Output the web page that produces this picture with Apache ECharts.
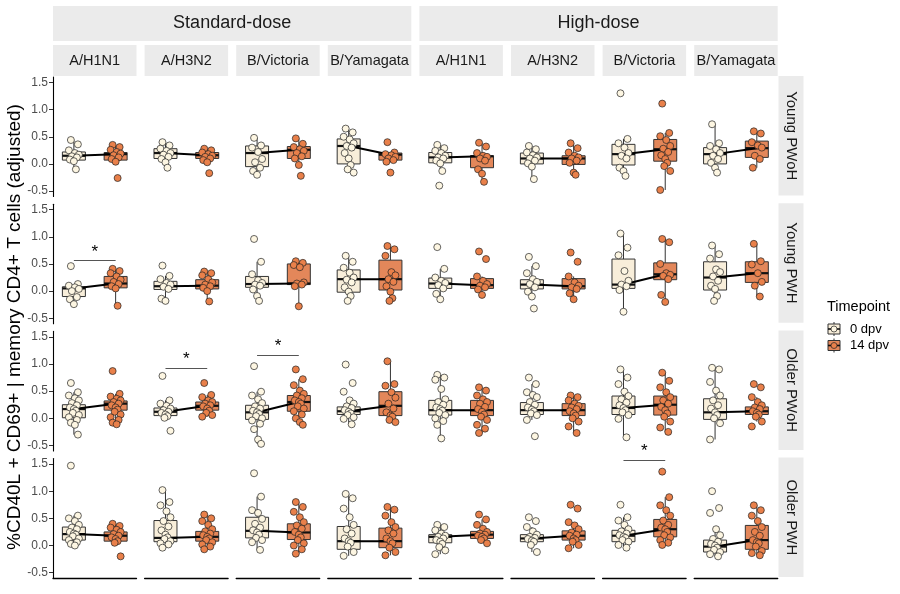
<!DOCTYPE html>
<html lang="en">
  <head>
    <meta charset="UTF-8" />
    <title>CD40L+ CD69+ memory CD4+ T cells</title>
    <script src="https://cdn.jsdelivr.net/npm/echarts@6.0.0/dist/echarts.min.js"></script>
    <style>
      html, body { margin: 0; padding: 0; background: #fff; }
      #box { width: 900px; height: 594px; }
    </style>
  </head>
  <body>
    <div id="box"></div>
    <script>
      var doses = ["Standard-dose", "High-dose"];
      var strains = ["A/H1N1", "A/H3N2", "B/Victoria", "B/Yamagata"];
      var cohorts = ["Young PWoH", "Young PWH", "Older PWoH", "Older PWH"];
      var timepoints = ["0 dpv", "14 dpv"];
      var yTicks = [-0.5, 0, 0.5, 1, 1.5];

      // box: [lower whisker, Q1, median, Q3, upper whisker]
      // 8 panels per row (standard-dose strains, then high-dose strains), each [0 dpv, 14 dpv]
      var boxYoungPWoH = [
        [[-0.1, 0.07, 0.15, 0.22, 0.43], [0.04, 0.07, 0.18, 0.21, 0.35]],
        [[-0.07, 0.1, 0.2, 0.28, 0.4], [0.03, 0.1, 0.16, 0.21, 0.28]],
        [[-0.2, -0.05, 0.2, 0.33, 0.48], [-0.02, 0.1, 0.26, 0.32, 0.47]],
        [[-0.16, 0.0, 0.33, 0.46, 0.65], [0.04, 0.07, 0.17, 0.2, 0.21]],
        [[-0.13, 0.02, 0.12, 0.21, 0.35], [-0.33, -0.07, 0.14, 0.15, 0.39]],
        [[-0.28, 0.0, 0.1, 0.2, 0.33], [-0.2, -0.01, 0.1, 0.15, 0.38]],
        [[-0.22, -0.02, 0.18, 0.36, 0.46], [-0.48, 0.05, 0.27, 0.45, 0.57]],
        [[-0.16, 0.0, 0.18, 0.3, 0.73], [-0.07, 0.12, 0.29, 0.42, 0.6]],
      ];
      var boxYoungPWH = [
        [[-0.24, -0.1, 0.05, 0.08, 0.13], [-0.27, 0.06, 0.14, 0.27, 0.41]],
        [[-0.18, 0.03, 0.09, 0.18, 0.28], [-0.19, 0.04, 0.1, 0.21, 0.36]],
        [[-0.18, 0.07, 0.13, 0.27, 0.54], [-0.28, 0.12, 0.14, 0.5, 0.55]],
        [[-0.18, -0.02, 0.22, 0.39, 0.65], [-0.18, 0.02, 0.22, 0.57, 0.83]],
        [[-0.15, 0.05, 0.14, 0.24, 0.41], [-0.07, 0.05, 0.11, 0.23, 0.27]],
        [[-0.1, 0.04, 0.12, 0.21, 0.46], [-0.15, 0.04, 0.09, 0.23, 0.27]],
        [[-0.38, 0.05, 0.12, 0.59, 1.06], [-0.2, 0.21, 0.31, 0.52, 0.96]],
        [[-0.18, 0.02, 0.25, 0.54, 0.84], [-0.1, 0.16, 0.33, 0.54, 0.87]],
      ];
      var boxOlderPWoH = [
        [[-0.3, 0.01, 0.17, 0.25, 0.48], [-0.11, 0.15, 0.27, 0.32, 0.45]],
        [[0.0, 0.05, 0.12, 0.19, 0.33], [0.03, 0.15, 0.23, 0.3, 0.43]],
        [[-0.47, -0.02, 0.11, 0.24, 0.49], [-0.12, 0.13, 0.3, 0.42, 0.72]],
        [[-0.11, 0.07, 0.13, 0.21, 0.33], [-0.07, 0.05, 0.23, 0.49, 1.05]],
        [[-0.37, 0.06, 0.15, 0.33, 0.8], [-0.27, 0.05, 0.15, 0.33, 0.57]],
        [[-0.03, 0.07, 0.15, 0.29, 0.63], [-0.27, 0.05, 0.15, 0.27, 0.42]],
        [[-0.35, 0.07, 0.19, 0.41, 0.9], [-0.25, 0.06, 0.25, 0.41, 0.84]],
        [[-0.39, -0.02, 0.11, 0.36, 0.93], [-0.06, 0.07, 0.13, 0.21, 0.39]],
      ];
      var boxOlderPWH = [
        [[0.0, 0.1, 0.21, 0.34, 0.55], [0.05, 0.08, 0.18, 0.25, 0.4]],
        [[-0.04, 0.07, 0.14, 0.46, 1.02], [-0.07, 0.08, 0.16, 0.26, 0.57]],
        [[-0.08, 0.14, 0.27, 0.52, 0.9], [-0.15, 0.11, 0.24, 0.4, 0.8]],
        [[-0.19, -0.07, 0.08, 0.35, 0.95], [-0.18, -0.04, 0.08, 0.32, 0.71]],
        [[-0.16, 0.05, 0.16, 0.2, 0.38], [0.04, 0.13, 0.2, 0.26, 0.48]],
        [[-0.12, 0.07, 0.13, 0.2, 0.34], [-0.05, 0.1, 0.18, 0.27, 0.43]],
        [[-0.04, 0.07, 0.18, 0.28, 0.52], [0.01, 0.16, 0.3, 0.48, 0.89]],
        [[-0.2, -0.12, -0.02, 0.1, 0.3], [-0.18, -0.07, 0.1, 0.37, 0.74]],
      ];

      // individual participants, same panel order
      var ptsYoungPWoH = [
        [[0.44, 0.36, 0.25, 0.2, 0.17, 0.14, 0.12, 0.08, 0.05, -0.1], [0.35, 0.31, 0.26, 0.22, 0.19, 0.16, 0.12, 0.09, 0.04, -0.26]],
        [[0.4, 0.34, 0.28, 0.24, 0.2, 0.17, 0.13, 0.09, 0.03, -0.07], [0.28, 0.25, 0.21, 0.18, 0.15, 0.13, 0.1, 0.07, 0.03, -0.17]],
        [[0.48, 0.34, 0.3, 0.22, 0.09, 0.03, -0.07, -0.13, -0.2], [0.47, 0.37, 0.31, 0.27, 0.24, 0.2, 0.14, 0.1, -0.02, -0.22]],
        [[0.65, 0.58, 0.5, 0.45, 0.38, 0.33, 0.3, 0.2, 0.1, -0.02, -0.1, -0.16], [0.4, 0.21, 0.18, 0.16, 0.13, 0.1, 0.07, 0.04, -0.16]],
        [[0.35, 0.29, 0.24, 0.2, 0.15, 0.12, 0.1, 0.06, 0.01, -0.13, -0.4], [0.39, 0.32, 0.2, 0.15, 0.13, 0.1, 0.06, -0.1, -0.18, -0.33]],
        [[0.33, 0.27, 0.21, 0.16, 0.12, 0.1, 0.06, 0.01, -0.05, -0.28], [0.38, 0.29, 0.21, 0.15, 0.12, 0.1, 0.06, 0.02, -0.16, -0.2]],
        [[1.3, 0.46, 0.38, 0.3, 0.2, 0.15, 0.1, -0.07, -0.13, -0.22], [1.11, 0.57, 0.51, 0.44, 0.33, 0.28, 0.22, 0.16, 0.09, 0.02, -0.04, -0.13, -0.48]],
        [[0.73, 0.38, 0.33, 0.27, 0.2, 0.15, 0.09, 0.02, -0.07, -0.16], [0.6, 0.56, 0.4, 0.34, 0.3, 0.15, 0.09, -0.07]],
      ];
      var ptsYoungPWH = [
        [[0.46, 0.13, 0.1, 0.07, 0.04, 0.0, -0.11, -0.15, -0.24], [0.41, 0.37, 0.33, 0.27, 0.21, 0.17, 0.13, 0.09, 0.05, -0.27]],
        [[0.47, 0.28, 0.22, 0.15, 0.12, 0.08, 0.04, -0.14, -0.18], [0.36, 0.33, 0.29, 0.22, 0.16, 0.12, 0.09, 0.06, 0.0, -0.19]],
        [[0.96, 0.54, 0.31, 0.2, 0.15, 0.12, 0.1, 0.03, -0.09, -0.18], [0.55, 0.52, 0.48, 0.44, 0.16, 0.14, 0.12, 0.09, -0.28]],
        [[0.65, 0.54, 0.43, 0.34, 0.25, 0.21, 0.16, 0.07, -0.01, -0.09, -0.18], [0.83, 0.77, 0.65, 0.35, 0.29, 0.22, 0.17, 0.09, -0.01, -0.13, -0.18]],
        [[0.81, 0.41, 0.25, 0.19, 0.15, 0.11, 0.05, -0.05, -0.15], [0.73, 0.59, 0.27, 0.19, 0.13, 0.1, 0.07, 0.03, -0.07]],
        [[0.63, 0.46, 0.33, 0.22, 0.17, 0.13, 0.07, -0.01, -0.1, -0.32], [0.71, 0.54, 0.27, 0.16, 0.1, 0.07, 0.04, -0.04, -0.15]],
        [[1.06, 0.8, 0.66, 0.37, 0.19, 0.12, 0.09, 0.02, -0.38], [0.96, 0.9, 0.5, 0.33, 0.3, 0.28, 0.22, -0.07, -0.2]],
        [[0.84, 0.68, 0.6, 0.4, 0.35, 0.27, 0.19, 0.1, 0.04, -0.09, -0.18], [0.87, 0.55, 0.49, 0.33, 0.17, 0.1, -0.1]],
      ];
      var ptsOlderPWoH = [
        [[0.65, 0.48, 0.42, 0.37, 0.33, 0.28, 0.24, 0.2, 0.17, 0.14, 0.1, 0.06, 0.02, -0.03, -0.08, -0.12, -0.3],
         [0.87, 0.45, 0.4, 0.36, 0.33, 0.3, 0.27, 0.24, 0.2, 0.16, 0.12, 0.07, 0.02, -0.03, -0.08, -0.11]],
        [[0.78, 0.33, 0.27, 0.23, 0.18, 0.15, 0.12, 0.1, 0.07, 0.04, 0.01, -0.23],
         [0.65, 0.43, 0.39, 0.33, 0.3, 0.27, 0.24, 0.22, 0.18, 0.14, 0.1, 0.06, 0.03]],
        [[0.96, 0.49, 0.42, 0.35, 0.28, 0.22, 0.18, 0.14, 0.11, 0.08, 0.04, 0.0, -0.04, -0.1, -0.2, -0.39, -0.47],
         [0.9, 0.72, 0.61, 0.51, 0.45, 0.42, 0.37, 0.33, 0.3, 0.27, 0.22, 0.18, 0.13, 0.07, 0.0, -0.07, -0.12]],
        [[0.99, 0.65, 0.49, 0.33, 0.27, 0.22, 0.19, 0.15, 0.12, 0.09, 0.06, 0.02, -0.01, -0.11],
         [1.05, 0.63, 0.6, 0.48, 0.38, 0.27, 0.18, 0.11, 0.05, 0.03, -0.03, -0.07]],
        [[0.8, 0.75, 0.71, 0.54, 0.35, 0.3, 0.25, 0.2, 0.17, 0.14, 0.1, 0.06, 0.0, -0.05, -0.12, -0.37],
         [0.57, 0.51, 0.42, 0.35, 0.3, 0.27, 0.21, 0.17, 0.12, 0.07, 0.03, -0.03, -0.12, -0.19, -0.27]],
        [[0.75, 0.63, 0.48, 0.43, 0.39, 0.3, 0.25, 0.2, 0.16, 0.13, 0.09, 0.06, -0.03, -0.33],
         [0.42, 0.39, 0.33, 0.27, 0.23, 0.2, 0.17, 0.13, 0.09, 0.05, 0.0, -0.06, -0.15, -0.27]],
        [[0.9, 0.75, 0.63, 0.49, 0.41, 0.35, 0.29, 0.24, 0.19, 0.15, 0.11, 0.06, -0.01, -0.35],
         [0.84, 0.69, 0.57, 0.48, 0.39, 0.33, 0.27, 0.21, 0.15, 0.09, 0.03, -0.06, -0.17, -0.25]],
        [[0.93, 0.9, 0.67, 0.51, 0.42, 0.33, 0.24, 0.18, 0.11, 0.06, 0.0, -0.09, -0.39],
         [0.63, 0.57, 0.39, 0.3, 0.24, 0.2, 0.17, 0.13, 0.1, 0.07, 0.03, -0.06, -0.15]],
      ];
      var ptsOlderPWH = [
        [[1.47, 0.55, 0.5, 0.45, 0.38, 0.33, 0.3, 0.25, 0.22, 0.2, 0.17, 0.13, 0.1, 0.06, 0.03, 0.0],
         [0.4, 0.36, 0.33, 0.29, 0.25, 0.21, 0.18, 0.15, 0.12, 0.08, 0.05, -0.2]],
        [[1.02, 0.8, 0.74, 0.63, 0.52, 0.45, 0.35, 0.28, 0.2, 0.15, 0.12, 0.08, 0.04, 0.02, -0.04],
         [0.57, 0.5, 0.45, 0.38, 0.3, 0.26, 0.22, 0.19, 0.16, 0.13, 0.1, 0.06, 0.02, -0.02, -0.07]],
        [[1.33, 0.9, 0.65, 0.6, 0.49, 0.4, 0.33, 0.28, 0.24, 0.2, 0.14, 0.1, 0.06, -0.08],
         [0.8, 0.71, 0.62, 0.52, 0.43, 0.37, 0.31, 0.25, 0.2, 0.15, 0.1, 0.04, 0.0, -0.07, -0.15]],
        [[0.95, 0.87, 0.68, 0.52, 0.38, 0.3, 0.22, 0.13, 0.08, 0.05, -0.02, -0.12, -0.19],
         [0.71, 0.66, 0.55, 0.43, 0.34, 0.28, 0.22, 0.13, 0.08, 0.04, -0.04, -0.12, -0.18]],
        [[0.38, 0.34, 0.28, 0.22, 0.18, 0.16, 0.13, 0.1, 0.07, 0.03, -0.03, -0.09, -0.16],
         [0.57, 0.48, 0.38, 0.31, 0.25, 0.22, 0.2, 0.18, 0.16, 0.13, 0.1, 0.04]],
        [[0.52, 0.45, 0.34, 0.26, 0.2, 0.16, 0.14, 0.12, 0.09, 0.07, 0.01, -0.12],
         [0.75, 0.68, 0.43, 0.37, 0.3, 0.24, 0.2, 0.18, 0.13, 0.1, 0.07, 0.01, -0.05]],
        [[0.75, 0.52, 0.46, 0.38, 0.3, 0.26, 0.22, 0.19, 0.16, 0.14, 0.1, 0.07, 0.01, -0.04],
         [1.36, 0.89, 0.74, 0.65, 0.55, 0.46, 0.38, 0.33, 0.3, 0.25, 0.19, 0.15, 0.1, 0.05, 0.01]],
        [[1.0, 0.69, 0.6, 0.3, 0.19, 0.12, 0.07, 0.03, 0.0, -0.04, -0.08, -0.12, -0.16, -0.2],
         [0.74, 0.65, 0.55, 0.45, 0.34, 0.25, 0.18, 0.1, 0.06, 0.04, -0.02, -0.1, -0.14, -0.18]],
      ];

      // significance brackets: [row, panel, height]
      var sigMarks = [[1, 0, 0.56], [2, 1, 0.93], [2, 2, 1.17], [3, 6, 1.57]];

      var boxRows = [boxYoungPWoH, boxYoungPWH, boxOlderPWoH, boxOlderPWH];
      var ptsRows = [ptsYoungPWoH, ptsYoungPWH, ptsOlderPWoH, ptsOlderPWH];

      // layout / style
      var FONT = "'Liberation Sans', Arial, sans-serif";
      var LEFT = 53, PW = 83.5, STEPX = 91.6;
      var TOP = 77, PH = 119.5, STEPY = 127.2;
      var STRIP = "#EBEBEB";
      var boxFill = ["#F8EEDA", "#E3875A"];
      var ptFill = ["#FDF6E2", "#E9804A"];
      var jit = [-3, 4, -5, 1, 5, -2, 3, -4, 0, 2, -1, 5, -5, 3, -3, 1, 4];

      var grids = [], xAxes = [], yAxes = [], series = [], graphics = [];

      for (var r = 0; r < 4; r++) {
        for (var c = 0; c < 8; c++) {
          var k = r * 8 + c;
          grids.push({ left: LEFT + c * STEPX, top: TOP + r * STEPY, width: PW, height: PH });
          xAxes.push({
            gridIndex: k, type: "category", data: timepoints,
            axisLine: { show: r === 3, onZero: false, lineStyle: { color: "#000", width: 1.3 } },
            axisTick: { show: false }, axisLabel: { show: false }, splitLine: { show: false },
          });
          yAxes.push({
            gridIndex: k, type: "value", min: -0.6, max: 1.6,
            axisLine: { show: c === 0, onZero: false, lineStyle: { color: "#000", width: 1.1 } },
            axisTick: { show: c === 0, length: 4, customValues: yTicks, lineStyle: { color: "#333" } },
            axisLabel: {
              show: c === 0, customValues: yTicks, color: "#4D4D4D", fontSize: 12, fontFamily: FONT, margin: 5,
              formatter: function (v) { return v.toFixed(1); },
            },
            splitLine: { show: false },
          });

          var b = boxRows[r][c];
          series.push({
            type: "custom", xAxisIndex: k, yAxisIndex: k, z: 2,
            encode: { x: 0, y: [1, 2, 3, 4, 5] },
            data: [[0].concat(b[0]), [1].concat(b[1])],
            renderItem: function (params, api) {
              var t = api.value(0);
              var lo = api.coord([t, api.value(1)]);
              var q1 = api.coord([t, api.value(2)]);
              var md = api.coord([t, api.value(3)]);
              var q3 = api.coord([t, api.value(4)]);
              var hi = api.coord([t, api.value(5)]);
              var cx = md[0], hw = 11.5;
              var ln = { stroke: "#333", lineWidth: 1 };
              return {
                type: "group",
                children: [
                  { type: "line", shape: { x1: cx, y1: lo[1], x2: cx, y2: q1[1] }, style: ln },
                  { type: "line", shape: { x1: cx, y1: q3[1], x2: cx, y2: hi[1] }, style: ln },
                  { type: "rect", shape: { x: cx - hw, y: q3[1], width: hw * 2, height: q1[1] - q3[1] },
                    style: { fill: boxFill[t], stroke: "#333", lineWidth: 1 } },
                  { type: "line", shape: { x1: cx - hw, y1: md[1], x2: cx + hw, y2: md[1] },
                    style: { stroke: "#111", lineWidth: 2.2 } },
                ],
              };
            },
          });

          // line joining the two medians (+ significance bracket)
          var medLine = {
            type: "line", xAxisIndex: k, yAxisIndex: k, z: 3,
            data: [b[0][2], b[1][2]], symbol: "none",
            lineStyle: { color: "#000", width: 2 },
          };
          sigMarks.forEach(function (s) {
            if (s[0] === r && s[1] === c) {
              medLine.markLine = {
                silent: true, symbol: ["none", "none"],
                lineStyle: { color: "#555", width: 1, type: "solid" },
                label: { formatter: "*", position: "middle", color: "#000", fontSize: 17, fontFamily: FONT, distance: 0 },
                data: [[{ coord: [0, s[2]] }, { coord: [1, s[2]] }]],
              };
            }
          });
          series.push(medLine);

          for (var t = 0; t < 2; t++) {
            series.push({
              type: "scatter", xAxisIndex: k, yAxisIndex: k, z: 4,
              symbolSize: 7,
              itemStyle: { color: ptFill[t], borderColor: "#222", borderWidth: 0.7, opacity: 1 },
              data: ptsRows[r][c][t].map(function (v, i) {
                return { value: [t, v], symbolOffset: [jit[i % jit.length], 0] };
              }),
            });
          }
        }
      }

      // facet strips
      for (var d = 0; d < 2; d++) {
        var x0 = LEFT + d * 4 * STEPX, x1 = LEFT + (d * 4 + 3) * STEPX + PW;
        graphics.push({ type: "rect", shape: { x: x0, y: 6, width: x1 - x0, height: 35 }, style: { fill: STRIP } });
        graphics.push({ type: "text", x: (x0 + x1) / 2, y: 23.5,
          style: { text: doses[d], fill: "#1A1A1A", font: "18px " + FONT, align: "center", verticalAlign: "middle" } });
      }
      for (var c2 = 0; c2 < 8; c2++) {
        var sx = LEFT + c2 * STEPX;
        graphics.push({ type: "rect", shape: { x: sx, y: 45, width: PW, height: 31 }, style: { fill: STRIP } });
        graphics.push({ type: "text", x: sx + PW / 2, y: 61,
          style: { text: strains[c2 % 4], fill: "#1A1A1A", font: "14.5px " + FONT, align: "center", verticalAlign: "middle" } });
      }
      for (var r2 = 0; r2 < 4; r2++) {
        var sy = TOP + r2 * STEPY;
        graphics.push({ type: "rect", shape: { x: 778.5, y: sy - 1, width: 25, height: PH }, style: { fill: STRIP } });
        graphics.push({ type: "text", x: 791, y: sy - 1 + PH / 2, rotation: -Math.PI / 2,
          style: { text: cohorts[r2], fill: "#1A1A1A", font: "15px " + FONT, align: "center", verticalAlign: "middle" } });
      }

      // y axis title
      graphics.push({ type: "text", x: 15, y: 327, rotation: Math.PI / 2,
        style: { text: "%CD40L + CD69+ | memory CD4+ T cells (adjusted)", fill: "#000", font: "19px " + FONT,
          align: "center", verticalAlign: "middle" } });

      // legend
      graphics.push({ type: "text", x: 827, y: 307,
        style: { text: "Timepoint", fill: "#000", font: "14.5px " + FONT, verticalAlign: "middle" } });
      for (var t2 = 0; t2 < 2; t2++) {
        var ly = 329 + t2 * 16.5;
        graphics.push({ type: "line", shape: { x1: 834, y1: ly - 7, x2: 834, y2: ly + 7 }, style: { stroke: "#333", lineWidth: 1 } });
        graphics.push({ type: "rect", shape: { x: 828, y: ly - 5, width: 12, height: 10 },
          style: { fill: boxFill[t2], stroke: "#333", lineWidth: 1 } });
        graphics.push({ type: "line", shape: { x1: 828, y1: ly, x2: 840, y2: ly }, style: { stroke: "#111", lineWidth: 1.6 } });
        graphics.push({ type: "circle", shape: { cx: 834, cy: ly, r: 3 }, style: { fill: ptFill[t2], stroke: "#222", lineWidth: 0.7 } });
        graphics.push({ type: "text", x: 850, y: ly,
          style: { text: timepoints[t2], fill: "#000", font: "13px " + FONT, verticalAlign: "middle" } });
      }

      var myChart = echarts.init(document.getElementById("box"));
      myChart.setOption({
        animation: false,
        backgroundColor: "#fff",
        grid: grids,
        xAxis: xAxes,
        yAxis: yAxes,
        series: series,
        graphic: graphics,
      });
    </script>
  </body>
</html>
